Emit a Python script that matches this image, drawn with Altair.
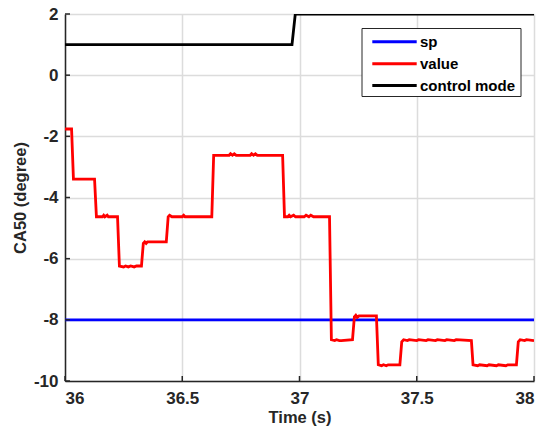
import altair as alt
import pandas as pd

# ---- data ----
value_t = [36.000, 36.028, 36.036, 36.126, 36.134, 36.160, 36.165, 36.170, 36.180, 36.185,
           36.224, 36.232, 36.250, 36.258, 36.270, 36.280, 36.295, 36.305, 36.326, 36.334,
           36.340, 36.346, 36.352, 36.432, 36.440, 36.446, 36.456, 36.500, 36.506, 36.512,
           36.626, 36.634, 36.700, 36.706, 36.714, 36.722, 36.730, 36.790, 36.796, 36.804,
           36.812, 36.820, 36.928, 36.936, 36.950, 36.956, 36.962, 36.975, 36.983, 36.990,
           37.020, 37.028, 37.040, 37.048, 37.060, 37.068, 37.128, 37.136, 37.150, 37.158,
           37.170, 37.178, 37.226, 37.234, 37.240, 37.246, 37.254, 37.328, 37.336, 37.350,
           37.358, 37.370, 37.378, 37.428, 37.436, 37.444, 37.460, 37.468, 37.500, 37.508,
           37.540, 37.548, 37.580, 37.588, 37.620, 37.628, 37.660, 37.668, 37.733, 37.740,
           37.760, 37.768, 37.800, 37.808, 37.840, 37.848, 37.880, 37.888, 37.925, 37.933,
           37.941, 37.960, 37.968, 38.000]
value_v = [-1.76, -1.76, -3.40, -3.40, -4.63, -4.63, -4.58, -4.63, -4.58, -4.63,
           -4.63, -6.24, -6.27, -6.24, -6.27, -6.24, -6.27, -6.24, -6.24, -5.50,
           -5.45, -5.50, -5.45, -5.45, -4.63, -4.58, -4.63, -4.63, -4.58, -4.63,
           -4.63, -2.62, -2.62, -2.57, -2.62, -2.57, -2.62, -2.62, -2.57, -2.62,
           -2.57, -2.62, -2.62, -4.63, -4.63, -4.58, -4.63, -4.58, -4.63, -4.63,
           -4.63, -4.58, -4.63, -4.58, -4.63, -4.63, -4.63, -8.65, -8.68, -8.65,
           -8.68, -8.68, -8.65, -7.90, -7.85, -7.92, -7.87, -7.87, -9.47, -9.50,
           -9.47, -9.50, -9.47, -9.47, -8.72, -8.65, -8.68, -8.65, -8.68, -8.65,
           -8.68, -8.65, -8.68, -8.65, -8.68, -8.65, -8.68, -8.65, -8.68, -9.47,
           -9.50, -9.47, -9.50, -9.47, -9.50, -9.47, -9.50, -9.47, -9.47, -8.72,
           -8.65, -8.68, -8.65, -8.68]

sp_t = [36.0, 38.0]
sp_v = [-8.0, -8.0]

mode_t = [36.0, 36.968, 36.982, 38.0]
mode_v = [1.0, 1.0, 2.0, 2.0]

series_names = ["sp", "value", "control mode"]
series_colors = ["#0000FF", "#FF0000", "#000000"]

x_ticks = [36, 36.5, 37, 37.5, 38]
y_ticks = [-10, -8, -6, -4, -2, 0, 2]

# ---- build table ----
rows = []
for t, v in zip(sp_t, sp_v):
    rows.append({"t": t, "v": v, "series": "sp"})
for t, v in zip(value_t, value_v):
    rows.append({"t": t, "v": v, "series": "value"})
for t, v in zip(mode_t, mode_v):
    rows.append({"t": t, "v": v, "series": "control mode"})
df = pd.DataFrame(rows)
leg_df = pd.DataFrame({"series": series_names})

FONT = "Liberation Sans"
AX = "#262626"

x_scale = alt.Scale(domain=[36, 38], nice=False)
y_scale = alt.Scale(domain=[-10, 2], nice=False)
color_scale = alt.Scale(domain=series_names, range=series_colors)
leg_y = alt.Y("series:N", sort=series_names, axis=None,
              scale=alt.Scale(type="point", domain=series_names,
                              range=[27.8, 71.6], padding=0))

lines = alt.Chart(df).mark_line(strokeWidth=2.8, clip=True).encode(
    x=alt.X("t:Q", scale=x_scale,
            axis=alt.Axis(values=x_ticks, title="Time (s)", labelExpr="'' + datum.value")),
    y=alt.Y("v:Q", scale=y_scale,
            axis=alt.Axis(values=y_ticks, title="CA50 (degree)", labelExpr="'' + datum.value")),
    color=alt.Color("series:N", scale=color_scale, sort=series_names, legend=None),
    order=alt.Order("t:Q"),
)

xt = pd.DataFrame({"t": x_ticks})
yt = pd.DataFrame({"v": y_ticks})
xticks = alt.Chart(xt).mark_rule(color=AX, strokeWidth=1.5).encode(
    x=alt.X("t:Q", scale=x_scale), y=alt.value(367), y2=alt.value(362))
yticks = alt.Chart(yt).mark_rule(color=AX, strokeWidth=1.5).encode(
    y=alt.Y("v:Q", scale=y_scale), x=alt.value(0), x2=alt.value(5))

main = alt.layer(lines, xticks, yticks)

# legend: frame, line samples, labels
frame = alt.Chart(pd.DataFrame({"k": [0]})).mark_rect(
    fill="white", stroke=AX, strokeWidth=1).encode(
    x=alt.value(297), x2=alt.value(456), y=alt.value(14.5), y2=alt.value(82.5))
leg_lines = alt.Chart(leg_df).mark_rule(strokeWidth=3).encode(
    x=alt.value(307.3), x2=alt.value(351.7), y=leg_y,
    color=alt.Color("series:N", scale=color_scale, legend=None))
leg_text = alt.Chart(leg_df).mark_text(
    align="left", baseline="middle", font=FONT, fontWeight="bold",
    fontSize=15, color="#000000").encode(
    x=alt.value(355), y=leg_y, text="series:N")
legend = alt.layer(frame, leg_lines, leg_text)

chart = alt.layer(main, legend).resolve_scale(y="independent").properties(
    width=469, height=367,
    autosize=alt.AutoSizeParams(type="none"),
    padding={"left": 57, "top": 6, "right": 6, "bottom": 51},
).configure_view(stroke=None).configure_axis(
    labelFont=FONT, labelFontWeight="bold", labelFontSize=17, labelColor=AX,
    titleFont=FONT, titleFontWeight="bold", titleFontSize=16.5, titleColor=AX,
    domainColor=AX, domainWidth=1.5, ticks=False,
    gridColor="#dcdcdc", gridWidth=1.5,
).configure_axisX(labelPadding=9, titlePadding=3).configure_axisY(
    labelPadding=7, titlePadding=5)

chart.save("out.html", embed_options={"renderer": "svg", "actions": False})
